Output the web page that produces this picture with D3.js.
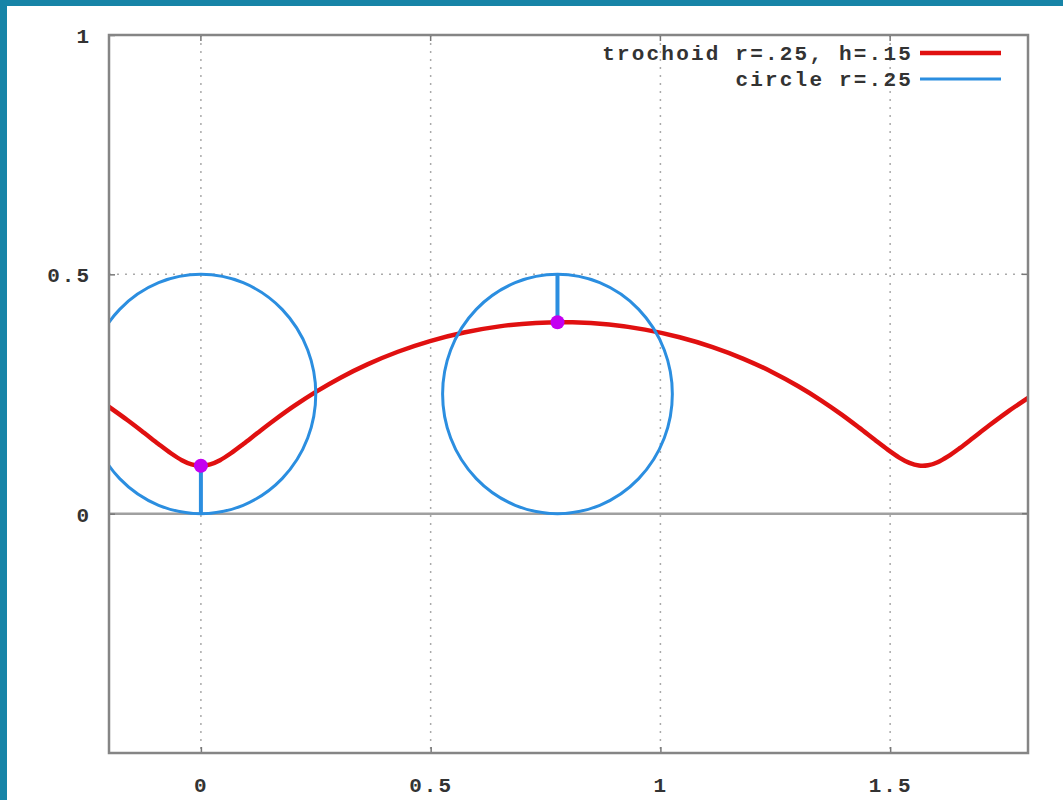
<!DOCTYPE html>
<html><head><meta charset="utf-8">
<script src="https://cdn.jsdelivr.net/npm/d3@7"></script>
<style>
html,body{margin:0;padding:0;background:#fff;}
svg{display:block;}
text{font-family:"Liberation Mono","DejaVu Sans Mono",monospace;font-weight:bold;fill:#333;}
</style></head>
<body>
<script>
// ---- data ----
const xTicks = [0, 0.5, 1, 1.5];
const xTickLabels = ["0", "0.5", "1", "1.5"];
const yTicks = [0, 0.5, 1];
const yTickLabels = ["0", "0.5", "1"];
const xDomain = [-0.2, 1.8];
const yDomain = [-0.5, 1];
const legendLabels = ["trochoid r=.25, h=.15", "circle r=.25"];
// trochoid points (x, y)
const trochoidX = [-0.2022,-0.1602,-0.1238,-0.0924,-0.0653,-0.0416,-0.0202,0,0.0202,0.0416,0.0653,0.0924,0.1238,0.1602,0.2022,0.2501,0.3039,0.3636,0.4287,0.4987,0.5727,0.6498,0.7288,0.8088,0.8883,0.9664,1.0418,1.1135,1.1807,1.2427,1.2991,1.3494,1.3938,1.4325,1.4659,1.4947,1.5197,1.5419,1.5625,1.5825,1.6033,1.6259,1.6515,1.6810,1.7152,1.7548,1.8002];
const trochoidY = [0.2245,0.1956,0.1690,0.1455,0.1262,0.1118,0.1030,0.1,0.1030,0.1118,0.1262,0.1455,0.1690,0.1956,0.2245,0.2544,0.2841,0.3124,0.3383,0.3606,0.3785,0.3913,0.3985,0.3997,0.3950,0.3845,0.3686,0.3480,0.3235,0.2961,0.2668,0.2369,0.2075,0.1797,0.1548,0.1337,0.1172,0.1060,0.1005,0.1010,0.1075,0.1196,0.1369,0.1587,0.1842,0.2123,0.2419];
// circles
const circleCX = [0, 0.776];
const circleCY = [0.25, 0.25];
const circleR = 0.25;
// radius segments (x, y1, y2) and tracing points
const segX = [0, 0.776];
const segY1 = [0, 0.5];
const segY2 = [0.1, 0.4];
const dotX = [0, 0.776];
const dotY = [0.1, 0.4];

// ---- layout ----
const W = 1063, H = 800;
const m = {left:109, top:35, right:1028, bottom:753};
const svg = d3.select("body").append("svg").attr("width", W).attr("height", H);

svg.append("rect").attr("x",0).attr("y",0).attr("width",W).attr("height",H).attr("fill","#fff");
svg.append("rect").attr("x",0).attr("y",0).attr("width",W).attr("height",6).attr("fill","#1784a7");
svg.append("rect").attr("x",0).attr("y",0).attr("width",7).attr("height",H).attr("fill","#1784a7");

const x = d3.scaleLinear().domain(xDomain).range([m.left, m.right]);
const y = d3.scaleLinear().domain(yDomain).range([m.bottom, m.top]);

svg.append("defs").append("clipPath").attr("id","clip")
  .append("rect").attr("x",m.left).attr("y",m.top).attr("width",m.right-m.left).attr("height",m.bottom-m.top);

// grid
const grid = svg.append("g");
grid.selectAll("line.gx").data(xTicks).join("line")
  .attr("x1",d=>x(d)).attr("x2",d=>x(d)).attr("y1",m.top).attr("y2",m.bottom)
  .attr("stroke","#aaa").attr("stroke-width",1.5).attr("stroke-dasharray","2,6");
grid.selectAll("line.gy").data(yTicks.filter(d=>d!==0 && d!==1)).join("line")
  .attr("x1",m.left).attr("x2",m.right).attr("y1",d=>y(d)).attr("y2",d=>y(d))
  .attr("stroke","#aaa").attr("stroke-width",1.5).attr("stroke-dasharray","2,6");
// zero axis
grid.append("line").attr("x1",m.left).attr("x2",m.right).attr("y1",y(0)).attr("y2",y(0))
  .attr("stroke","#a0a0a0").attr("stroke-width",2.5);

// axes (labels + ticks)
const xAxis = d3.axisBottom(x).tickValues(xTicks).tickFormat((d,i)=>xTickLabels[i]).tickSize(-6).tickPadding(20);
const gx = svg.append("g").attr("transform",`translate(0,${m.bottom})`).call(xAxis);
const yAxis = d3.axisLeft(y).tickValues(yTicks).tickFormat((d,i)=>yTickLabels[i]).tickSize(-6).tickPadding(18);
const gy = svg.append("g").attr("transform",`translate(${m.left},0)`).call(yAxis);
[gx, gy].forEach(g=>{
  g.select(".domain").remove();
  g.selectAll(".tick line").attr("stroke","#777").attr("stroke-width",1.5);
  g.selectAll(".tick text").style("font-size","21px").style("letter-spacing","2px")
    .attr("fill","#333").style("font-family",'"Liberation Mono",monospace').style("font-weight","bold");
});
gx.selectAll(".tick text").attr("dy","0.9em");
gy.selectAll(".tick text").attr("dy","0.36em");
// top ticks
svg.append("g").selectAll("line").data(xTicks).join("line")
  .attr("x1",d=>x(d)).attr("x2",d=>x(d)).attr("y1",m.top).attr("y2",m.top+6)
  .attr("stroke","#777").attr("stroke-width",1.5);
svg.append("g").selectAll("line").data(yTicks).join("line")
  .attr("x1",m.right).attr("x2",m.right-6).attr("y1",d=>y(d)).attr("y2",d=>y(d))
  .attr("stroke","#777").attr("stroke-width",1.5);

const plot = svg.append("g").attr("clip-path","url(#clip)");

// trochoid
const pts = trochoidX.map((d,i)=>[d, trochoidY[i]]);
const line = d3.line().x(d=>x(d[0])).y(d=>y(d[1])).curve(d3.curveCatmullRom);
plot.append("path").datum(pts).attr("d",line).attr("fill","none")
  .attr("stroke","#e01010").attr("stroke-width",4.5).attr("stroke-linejoin","round");

// circles
const blue = "#2b8ee0";
plot.selectAll("ellipse").data(circleCX).join("ellipse")
  .attr("cx",d=>x(d)).attr("cy",(d,i)=>y(circleCY[i]))
  .attr("rx",x(circleR)-x(0)).attr("ry",y(0)-y(circleR))
  .attr("fill","none").attr("stroke",blue).attr("stroke-width",3);
// radius segments
plot.selectAll("line.seg").data(segX).join("line")
  .attr("x1",d=>x(d)).attr("x2",d=>x(d)).attr("y1",(d,i)=>y(segY1[i])).attr("y2",(d,i)=>y(segY2[i]))
  .attr("stroke",blue).attr("stroke-width",4);
// dots
plot.selectAll("circle.dot").data(dotX).join("circle")
  .attr("cx",d=>x(d)).attr("cy",(d,i)=>y(dotY[i])).attr("r",7).attr("fill","#c400f0");

// frame
svg.append("rect").attr("x",m.left).attr("y",m.top).attr("width",m.right-m.left).attr("height",m.bottom-m.top)
  .attr("fill","none").attr("stroke","#858585").attr("stroke-width",2.5);

// legend
const legColors = ["#e01010", blue];
const legW = [4.5, 3];
const lg = svg.append("g");
legendLabels.forEach((t,i)=>{
  const yy = 53 + i*26;
  lg.append("text").attr("x",913).attr("y",yy).attr("dy","0.35em").attr("text-anchor","end")
    .style("font-size","21px").style("letter-spacing","2.2px").text(t);
  lg.append("line").attr("x1",920).attr("x2",1001).attr("y1",yy).attr("y2",yy)
    .attr("stroke",legColors[i]).attr("stroke-width",legW[i]);
});
</script>
</body></html>
